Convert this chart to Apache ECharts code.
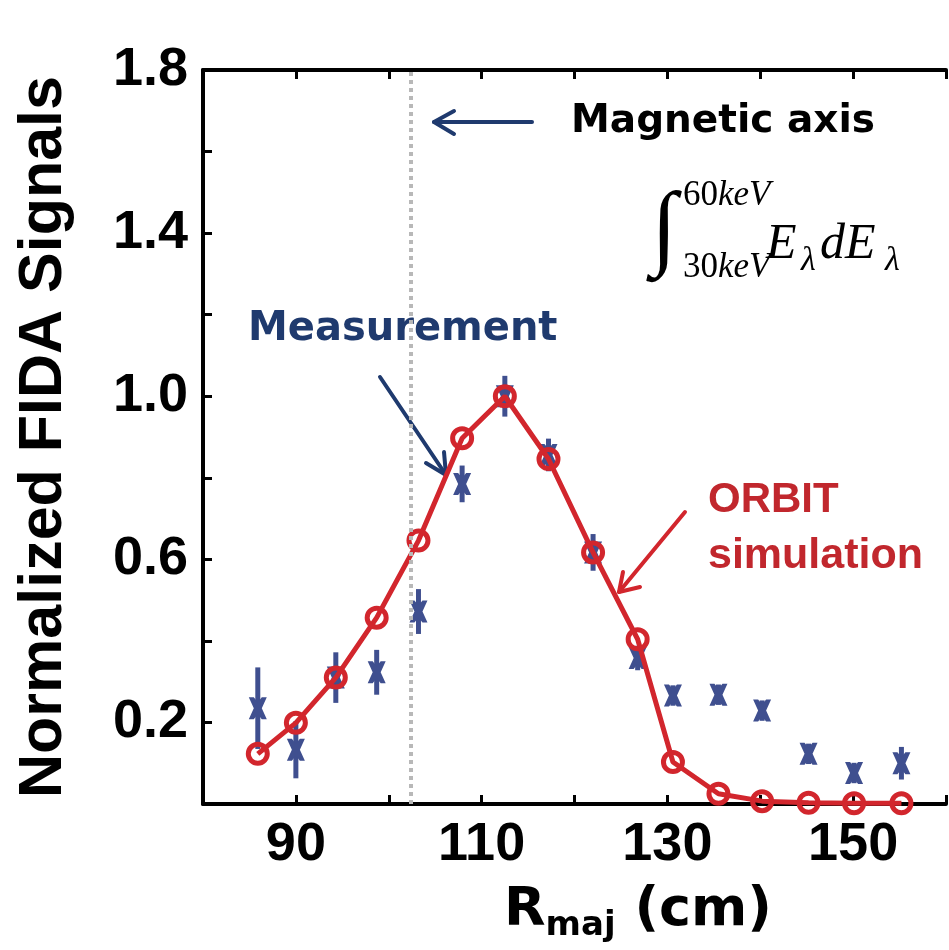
<!DOCTYPE html>
<html>
<head>
<meta charset="utf-8">
<script src="https://cdn.jsdelivr.net/npm/echarts@6/dist/echarts.min.js"></script>
<style>
  html, body { margin: 0; padding: 0; background: #fff; }
  #chart { width: 949px; height: 950px; }
</style>
</head>
<body>
<div id="chart"></div>
<script>
// major radius of each channel (cm)
const rMaj = [85.9, 90.0, 94.3, 98.7, 103.2, 107.9, 112.5, 117.2, 122.0, 126.8, 130.6, 135.5, 140.2, 145.2, 150.1, 155.2]
// ORBIT simulation, normalized
const orbit = [0.123, 0.199, 0.31, 0.457, 0.646, 0.897, 1.0, 0.846, 0.617, 0.404, 0.103, 0.025, 0.007, 0.003, 0.002, 0.002]
// FIDA measurement, normalized, and its error bars
const measured = [0.235, 0.133, 0.31, 0.323, 0.472, 0.785, 1.0, 0.856, 0.617, 0.358, 0.266, 0.268, 0.229, 0.123, 0.076, 0.1]
const measErr = [0.1, 0.07, 0.062, 0.055, 0.055, 0.045, 0.05, 0.04, 0.045, 0.03, 0.025, 0.025, 0.025, 0.025, 0.025, 0.04]
// magnetic axis position (cm)
const magAxisR = 102.4
// tick labels that are printed
const xTickLabels = [90, 110, 130, 150]
const yTickLabels = [0.2, 0.6, 1.0, 1.4, 1.8]

const RED = '#d2262d'
const BLUE = '#3f4f8f'
const NAVY = '#1f3a6e'

let myChart = echarts.init(document.getElementById('chart'), null, { renderer: 'canvas' })

function arrow(x1, y1, x2, y2, a1, a2, color) {
  return [
    { type: 'line', shape: { x1: x1, y1: y1, x2: x2, y2: y2 }, style: { stroke: color, lineWidth: 4, lineCap: 'round' } },
    { type: 'polyline', shape: { points: [a1, [x2, y2], a2] }, style: { stroke: color, lineWidth: 4, fill: null, lineCap: 'round', lineJoin: 'round' } }
  ]
}

function serif(text, x, y, size, italic) {
  return {
    type: 'text', x: x, y: y,
    style: { text: text, fill: '#000', font: (italic ? 'italic ' : '') + size + 'px "Liberation Serif"', verticalAlign: 'middle' }
  }
}

// X-shaped marker (hourglass), relative to its centre
const xMark = [[-9, -11], [-4, -11], [0, -6], [4, -11], [9, -11], [4, 0], [9, 11], [4, 11], [0, 6], [-4, 11], [-9, 11], [-4, 0]]

myChart.setOption({
  animation: false,
  grid: { left: 203, right: -10, top: 70, bottom: 146 },
  xAxis: [
    {
      type: 'value',
      min: 80,
      max: 160,
      interval: 10,
      axisLine: { lineStyle: { color: '#000', width: 4 } },
      axisTick: { inside: true, length: 9, lineStyle: { color: '#000', width: 3 } },
      splitLine: { show: false },
      axisLabel: {
        margin: 14,
        color: '#000',
        fontSize: 54,
        fontWeight: 'bold',
        fontFamily: 'Liberation Sans',
        formatter: v => (xTickLabels.indexOf(Math.round(v)) >= 0 ? String(Math.round(v)) : '')
      }
    },
    {
      type: 'value',
      position: 'top',
      min: 80,
      max: 160,
      interval: 10,
      axisLine: { lineStyle: { color: '#000', width: 4 } },
      axisTick: { inside: true, length: 9, lineStyle: { color: '#000', width: 3 } },
      axisLabel: { show: false },
      splitLine: { show: false }
    }
  ],
  yAxis: {
    type: 'value',
    min: 0,
    max: 1.8,
    interval: 0.2,
    name: 'Normalized FIDA Signals',
    nameLocation: 'middle',
    nameGap: 128,
    nameRotate: 90,
    nameTextStyle: { color: '#000', fontSize: 61, fontWeight: 'bold', fontFamily: 'Liberation Sans' },
    axisLine: { lineStyle: { color: '#000', width: 4 } },
    axisTick: { inside: true, length: 9, lineStyle: { color: '#000', width: 3 } },
    splitLine: { show: false },
    axisLabel: {
      margin: 15,
      color: '#000',
      fontSize: 54,
      fontWeight: 'bold',
      fontFamily: 'Liberation Sans',
      formatter: v => {
        let r = Math.round(v * 10) / 10
        return yTickLabels.indexOf(r) >= 0 ? r.toFixed(1) : ''
      }
    }
  },
  series: [
    {
      name: 'Measurement',
      type: 'custom',
      data: rMaj.map((x, i) => [x, measured[i], measErr[i]]),
      encode: { x: 0, y: 1 },
      renderItem: function (params, api) {
        let x = api.value(0)
        let y = api.value(1)
        let e = api.value(2)
        let c = api.coord([x, y])
        let top = api.coord([x, y + e])
        let bot = api.coord([x, y - e])
        return {
          type: 'group',
          children: [
            { type: 'line', shape: { x1: c[0], y1: top[1], x2: c[0], y2: bot[1] }, style: { stroke: BLUE, lineWidth: 5 } },
            { type: 'polygon', shape: { points: xMark.map(p => [c[0] + p[0], c[1] + p[1]]) }, style: { fill: BLUE } }
          ]
        }
      },
      markLine: {
        silent: true,
        symbol: 'none',
        label: { show: false },
        lineStyle: { color: '#b8b8b8', width: 4, type: [4, 4] },
        data: [{ xAxis: magAxisR }]
      },
      z: 2
    },
    {
      name: 'ORBIT simulation',
      type: 'line',
      data: rMaj.map((x, i) => [x, orbit[i]]),
      symbol: 'circle',
      symbolSize: 19,
      itemStyle: { color: 'rgba(0,0,0,0)', borderColor: RED, borderWidth: 5 },
      lineStyle: { color: RED, width: 5 },
      z: 3
    }
  ],
  graphic: [
    ...arrow(532, 122, 434, 122, [454, 111], [454, 134], NAVY),
    ...arrow(380, 377, 446, 475, [426, 463], [444, 452], NAVY),
    ...arrow(685, 512, 619, 592, [640, 587], [623, 572], RED),
    { type: 'text', x: 571, y: 122, style: { text: 'Magnetic axis', fill: '#000', font: 'bold 39px "DejaVu Sans"', verticalAlign: 'middle' } },
    { type: 'text', x: 248, y: 330, style: { text: 'Measurement', fill: NAVY, font: 'bold 40px "DejaVu Sans"', verticalAlign: 'middle' } },
    { type: 'text', x: 708, y: 500, style: { text: 'ORBIT', fill: '#c1272d', font: 'bold 42px "Liberation Sans"', verticalAlign: 'middle' } },
    { type: 'text', x: 708, y: 556, style: { text: 'simulation', fill: '#c1272d', font: 'bold 43px "Liberation Sans"', verticalAlign: 'middle' } },
    { type: 'text', x: 664, y: 232, style: { text: '∫', fill: '#000', font: '94px "Liberation Serif"', align: 'center', verticalAlign: 'middle' } },
    {
      type: 'text', x: 683, y: 196,
      style: {
        text: '{n|60}{k|keV}', verticalAlign: 'middle',
        rich: { n: { fontSize: 35, fontFamily: 'Liberation Serif', fill: '#000' }, k: { fontSize: 35, fontStyle: 'italic', fontFamily: 'Liberation Serif', fill: '#000' } }
      }
    },
    {
      type: 'text', x: 683, y: 268,
      style: {
        text: '{n|30}{k|keV}', verticalAlign: 'middle',
        rich: { n: { fontSize: 35, fontFamily: 'Liberation Serif', fill: '#000' }, k: { fontSize: 35, fontStyle: 'italic', fontFamily: 'Liberation Serif', fill: '#000' } }
      }
    },
    serif('E', 766, 245, 50, true),
    serif('λ', 801, 261, 34, true),
    serif('dE', 820, 245, 50, true),
    serif('λ', 885, 261, 34, true),
    {
      type: 'text', x: 638, y: 911,
      style: {
        text: '{b|R}{s|maj}{b| (cm)}', align: 'center', verticalAlign: 'middle',
        rich: {
          b: { fontSize: 54, fontWeight: 'bold', fontFamily: 'DejaVu Sans', fill: '#000', lineHeight: 64 },
          s: { fontSize: 34, fontWeight: 'bold', fontFamily: 'DejaVu Sans', fill: '#000', lineHeight: 34, verticalAlign: 'bottom' }
        }
      }
    }
  ]
})
</script>
</body>
</html>
